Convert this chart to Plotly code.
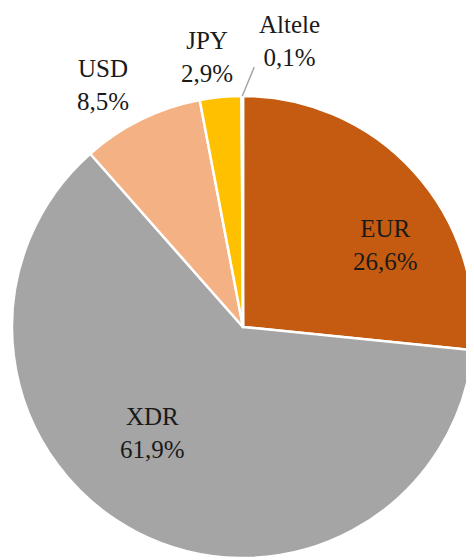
import math
import plotly.graph_objects as go

# Data
categories = ["EUR", "XDR", "USD", "JPY", "Altele"]
shares = [26.6, 61.9, 8.5, 2.9, 0.1]
colors = ["#C55A11", "#A5A5A5", "#F4B183", "#FFC000", "#5B9BD5"]

OFF = 8  # default body margin of the html page
W, H = 474 - OFF, 560 - OFF
CX, CY, R = 243 - OFF, 327 - OFF, 231  # pie centre / radius in figure pixels

# label block centres in window pixels (layout only)
label_pos = {
    "EUR": (385, 245),
    "XDR": (152, 433),
    "USD": (103, 85),
    "JPY": (207, 57),
    "Altele": (289, 41),
}

def fmt(v):
    return f"{v:.1f}".replace(".", ",") + "%"

fig = go.Figure(go.Pie(
    labels=categories,
    values=shares,
    sort=False,
    direction="clockwise",
    rotation=0,
    marker=dict(colors=colors, line=dict(color="white", width=2.5)),
    textinfo="none",
    hoverinfo="label+percent",
    domain=dict(x=[(CX - R) / W, min(1.0, (CX + R) / W)],
                y=[(H - CY - R) / H, (H - CY + R) / H]),
    showlegend=False,
))

annotations = []
for cat, val in zip(categories, shares):
    px, py = label_pos[cat]
    px, py = px - OFF, py - OFF
    annotations.append(dict(
        x=px / W, y=1 - py / H, xref="paper", yref="paper",
        text=f"{cat}<br>{fmt(val)}", showarrow=False,
        font=dict(family="Liberation Serif, serif", size=25, color="#1a1a1a"),
        xanchor="center", yanchor="middle", align="center",
    ))

# leader line for the smallest slice
total = sum(shares)
cum = sum(shares[:-1]) + shares[-1] / 2
ang = 2 * math.pi * cum / total
tx, ty = CX + R * math.sin(ang), CY - R * math.cos(ang)
shapes = [dict(type="line", xref="paper", yref="paper",
               x0=tx / W, y0=1 - ty / H, x1=(tx + 12) / W, y1=1 - (ty - 29) / H,
               line=dict(color="#A6A6A6", width=1.5))]

fig.update_layout(
    width=W, height=H,
    margin=dict(l=0, r=0, t=0, b=0),
    paper_bgcolor="white", plot_bgcolor="white",
    annotations=annotations, shapes=shapes,
)

fig.write_html("out.html")
